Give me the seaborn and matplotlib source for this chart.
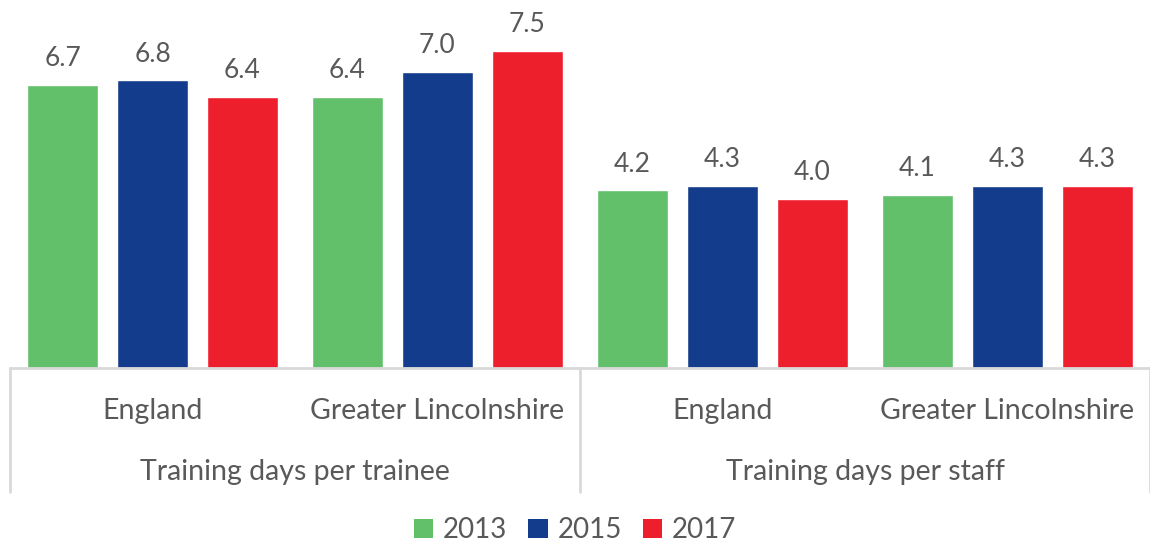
import matplotlib
matplotlib.use("Agg")
import matplotlib.pyplot as plt
import matplotlib.transforms as mtransforms
from matplotlib.patches import Patch
from matplotlib.lines import Line2D
import pandas as pd
import seaborn as sns

# Chart data
measures = ["Training days per trainee", "Training days per staff"]
areas = ["England", "Greater Lincolnshire"]
years = ["2013", "2015", "2017"]
values_2013 = [6.7, 6.4, 4.2, 4.1]
values_2015 = [6.8, 7.0, 4.3, 4.3]
values_2017 = [6.4, 7.5, 4.0, 4.3]

colors = ["#62BF6A", "#143C8C", "#EE1F2D"]
text_color = "#595959"
line_color = "#D9D9D9"

groups = [f"{m}|{a}" for m in measures for a in areas]
rows = []
for yr, vals in zip(years, [values_2013, values_2015, values_2017]):
    for g, v in zip(groups, vals):
        rows.append({"group": g, "year": yr, "value": v})
df = pd.DataFrame(rows)

sns.set_style("white")
plt.rcParams["font.family"] = ["Lato", "DejaVu Sans"]

fig = plt.figure(figsize=(11.5, 5.47), dpi=100)
ax = fig.add_axes([10 / 1150, (547 - 368) / 547, 1140 / 1150, 337 / 547])

sns.barplot(data=df, x="group", y="value", hue="year", order=groups,
            hue_order=years, palette=colors, width=0.947, gap=0.22,
            saturation=1, legend=False, ax=ax, errorbar=None)

for cont in ax.containers:
    ax.bar_label(cont, fmt="%.1f", padding=10, fontsize=19, color=text_color)

ax.set_xlim(-0.5, len(groups) - 0.5)
ax.set_ylim(0, 7.97)
ax.set_xlabel("")
ax.set_ylabel("")
ax.set_xticks([])
ax.set_yticks([])
for s in ax.spines.values():
    s.set_visible(False)

# Baseline and category separators below the plot
trans = mtransforms.blended_transform_factory(ax.transData, fig.transFigure)
y_base = (547 - 368) / 547
y_low = (547 - 492) / 547
fig.add_artist(Line2D([10 / 1150, 1.0], [y_base, y_base], transform=fig.transFigure,
                      color=line_color, lw=2))
for xs in [-0.5, 1.5, 3.5]:
    fig.add_artist(Line2D([xs, xs], [y_base, y_low], transform=trans,
                          color=line_color, lw=2))

y_area = (547 - 411) / 547
y_measure = (547 - 472) / 547
for i, g in enumerate(groups):
    ax.text(i, y_area, g.split("|")[1], transform=trans, ha="center", va="center",
            fontsize=20.5, color=text_color)
for j, m in enumerate(measures):
    ax.text(2 * j + 0.5, y_measure, m, transform=trans, ha="center", va="center",
            fontsize=20.5, color=text_color)

handles = [Patch(facecolor=c, edgecolor="none") for c in colors]
fig.legend(handles, years, loc="center", bbox_to_anchor=(0.5, (547 - 530) / 547),
           ncol=3, frameon=False, fontsize=20, labelcolor=text_color,
           handlelength=0.7, handleheight=0.7, handletextpad=0.35, columnspacing=0.75)

fig.savefig("out.png", dpi=100)
